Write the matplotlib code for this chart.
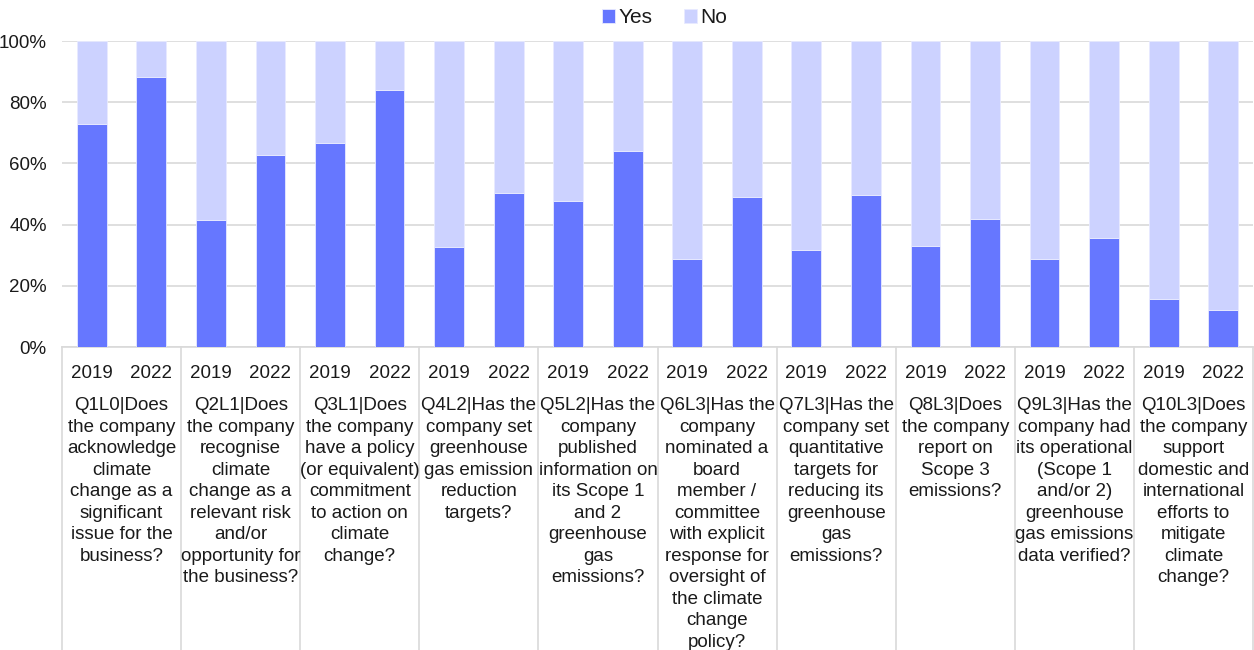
import matplotlib.pyplot as plt
import matplotlib.transforms as mtransforms
from matplotlib.ticker import PercentFormatter
import numpy as np

plt.rcParams['font.family'] = ['Liberation Sans', 'DejaVu Sans']

years = ["2019", "2022"]
questions = [
    "Q1L0|Does\nthe company\nacknowledge\nclimate\nchange as a\nsignificant\nissue for the\nbusiness?",
    "Q2L1|Does\nthe company\nrecognise\nclimate\nchange as a\nrelevant risk\nand/or\nopportunity for\nthe business?",
    "Q3L1|Does\nthe company\nhave a policy\n(or equivalent)\ncommitment\nto action on\nclimate\nchange?",
    "Q4L2|Has the\ncompany set\ngreenhouse\ngas emission\nreduction\ntargets?",
    "Q5L2|Has the\ncompany\npublished\ninformation on\nits Scope 1\nand 2\ngreenhouse\ngas\nemissions?",
    "Q6L3|Has the\ncompany\nnominated a\nboard\nmember /\ncommittee\nwith explicit\nresponse for\noversight of\nthe climate\nchange\npolicy?",
    "Q7L3|Has the\ncompany set\nquantitative\ntargets for\nreducing its\ngreenhouse\ngas\nemissions?",
    "Q8L3|Does\nthe company\nreport on\nScope 3\nemissions?",
    "Q9L3|Has the\ncompany had\nits operational\n(Scope 1\nand/or 2)\ngreenhouse\ngas emissions\ndata verified?",
    "Q10L3|Does\nthe company\nsupport\ndomestic and\ninternational\nefforts to\nmitigate\nclimate\nchange?",
]
yes_2019 = [72.9, 41.6, 66.7, 32.7, 47.7, 28.9, 31.7, 33.0, 28.9, 15.7]
yes_2022 = [88.2, 62.7, 84.0, 50.3, 64.2, 49.0, 49.7, 41.8, 35.6, 12.1]

yes = np.column_stack([yes_2019, yes_2022]).ravel()
no = 100 - yes
x = np.arange(len(yes))

c_yes = "#6677ff"
c_no = "#ccd2ff"
grid_c = "#d9d9d9"
txt_c = "#1a1a1a"

fig = plt.figure(figsize=(12.54, 6.5), dpi=100)
ax = fig.add_axes([62 / 1254, (650 - 347) / 650, (1253 - 62) / 1254, 306 / 650])

ax.bar(x, yes, width=0.5, color=c_yes, edgecolor="#e8eaff", linewidth=0.6, label="Yes", zorder=3)
ax.bar(x, no, width=0.5, bottom=yes, color=c_no, edgecolor="#e8eaff", linewidth=0.6, label="No", zorder=3)

ax.set_xlim(-0.5, len(yes) - 0.5)
ax.set_ylim(0, 100)
ax.set_yticks(np.arange(0, 101, 20))
ax.yaxis.set_major_formatter(PercentFormatter(decimals=0))
ax.tick_params(axis="y", length=0, labelsize=13.5, pad=11, labelcolor=txt_c)
ax.tick_params(axis="x", length=0, labelbottom=False)
ax.grid(axis="y", color=grid_c, linewidth=1.2, zorder=0)
for s in ["left", "right", "top"]:
    ax.spines[s].set_visible(False)
ax.spines["bottom"].set_color(grid_c)
ax.spines["bottom"].set_linewidth(1.2)

trans = mtransforms.blended_transform_factory(ax.transData, ax.transAxes)
for i, xi in enumerate(x):
    ax.text(xi, -0.086, years[i % 2], transform=trans, ha="center", va="center",
            fontsize=13.5, color=txt_c, clip_on=False)
for g, q in enumerate(questions):
    ax.text(2 * g + 0.5, -0.165, q, transform=trans, ha="center", va="top",
            fontsize=13.5, color=txt_c, linespacing=1.345, clip_on=False)
for g in range(len(questions) + 1):
    ax.plot([2 * g - 0.5, 2 * g - 0.5], [0, -1.0], transform=trans, color=grid_c,
            linewidth=1.2, clip_on=False)

fig.legend(loc="upper center", bbox_to_anchor=(0.530, 1.016), ncol=2, frameon=False,
           fontsize=15, handlelength=0.65, handleheight=0.65, handletextpad=0.15,
           columnspacing=1.5, labelcolor=txt_c)

fig.savefig("out.png", dpi=100)
